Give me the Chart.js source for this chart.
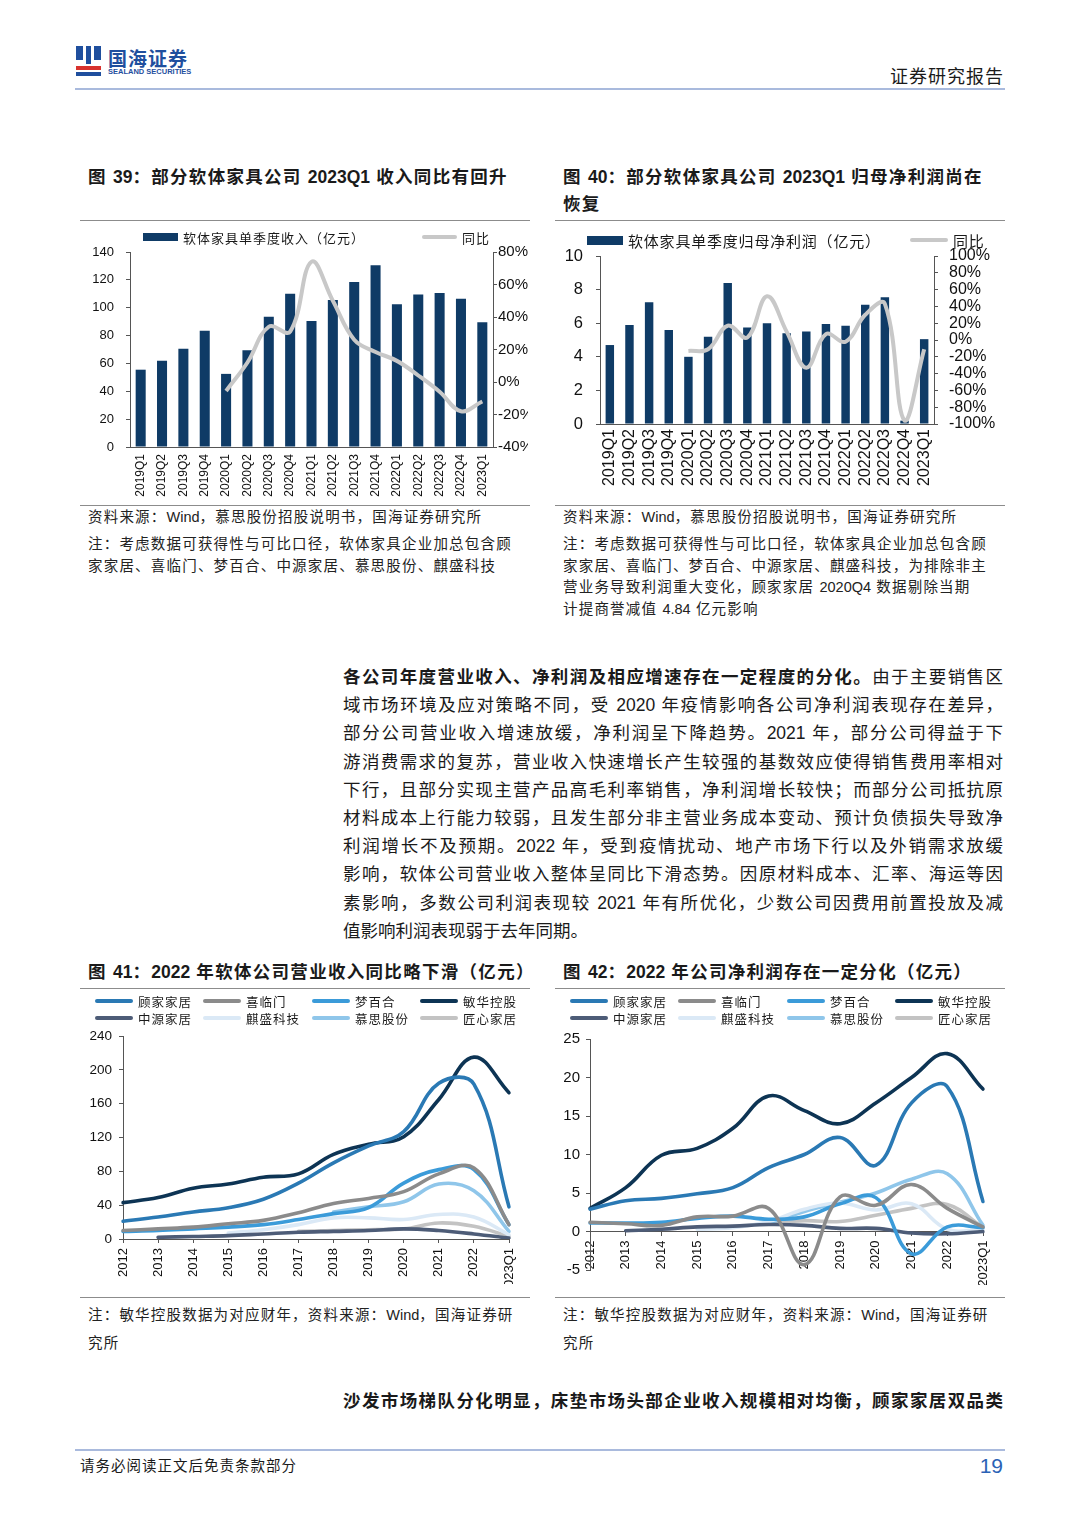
<!DOCTYPE html>
<html lang="zh-CN">
<head>
<meta charset="utf-8">
<title>软体家具公司收入与利润</title>
<script src="https://cdn.jsdelivr.net/npm/chart.js@4.4.1/dist/chart.umd.min.js"></script>
<style>
  html,body{margin:0;padding:0}
  body{width:1080px;height:1527px;position:relative;background:#fff;overflow:hidden;
    font-family:"Liberation Sans",Arial,"Noto Sans CJK SC",sans-serif;color:#1a1a1a}
  .a{position:absolute}
  .rule{position:absolute;height:1px;background:#8c8c8c}
  .brule{position:absolute;height:2px;background:#a9badd}
  .title{font-size:17.5px;font-weight:bold;line-height:27px;letter-spacing:1.3px;white-space:nowrap}
  .small{font-size:14.5px;line-height:21.5px;letter-spacing:1.2px;white-space:nowrap;color:#222}
  .lat{letter-spacing:0}
  .para{font-size:17.5px;line-height:28.2px;width:660px}
  .para div{text-align:justify;text-align-last:justify}
  .para div.last{text-align-last:left}
  .lg{position:absolute;display:flex;align-items:center;white-space:nowrap;height:18px}
  .lg span.sw{display:inline-block;margin-right:5px}
  canvas{position:absolute}
</style>
</head>
<body>

<!-- header -->
<div class="a" style="left:76px;top:46px;width:7px;height:14px;background:#1f4f9e"></div>
<div class="a" style="left:86px;top:46px;width:5px;height:18px;background:#1f4f9e"></div>
<div class="a" style="left:94px;top:46px;width:7px;height:14px;background:#1f4f9e"></div>
<div class="a" style="left:76px;top:66px;width:25px;height:4px;background:#d8322e"></div>
<div class="a" style="left:76px;top:72px;width:25px;height:4px;background:#1f4f9e"></div>
<div class="a" style="left:108px;top:44px;font-size:19px;font-weight:bold;color:#1f4f9e;letter-spacing:1px">国海证券</div>
<div class="a" style="left:108px;top:67px;font-size:7.5px;font-weight:bold;color:#1f4f9e">SEALAND SECURITIES</div>
<div class="a" style="right:76px;top:62px;font-size:18px;letter-spacing:1px">证券研究报告</div>
<div class="brule" style="left:75px;top:88px;width:930px"></div>

<!-- figure 39 / 40 titles -->
<div class="a title" style="left:88px;top:164px">图 <span class="lat">39</span>：部分软体家具公司 <span class="lat">2023Q1</span> 收入同比有回升</div>
<div class="a title" style="left:563px;top:164px">图 <span class="lat">40</span>：部分软体家具公司 <span class="lat">2023Q1</span> 归母净利润尚在<br>恢复</div>
<div class="rule" style="left:80px;top:220px;width:450px"></div>
<div class="rule" style="left:555px;top:220px;width:450px"></div>

<canvas id="c39" width="448" height="280" style="left:80px;top:225px;width:448px;height:280px"></canvas>
<canvas id="c40" width="455" height="280" style="left:555px;top:225px;width:455px;height:280px"></canvas>
<div id="lg39"></div>
<div id="lg40"></div>

<div class="rule" style="left:80px;top:505px;width:450px"></div>
<div class="rule" style="left:555px;top:505px;width:450px"></div>

<div class="a small" style="left:88px;top:507px">资料来源：<span class="lat">Wind</span>，慕思股份招股说明书，国海证券研究所</div>
<div class="a small" style="left:88px;top:534px">注：考虑数据可获得性与可比口径，软体家具企业加总包含顾<br>家家居、喜临门、梦百合、中源家居、慕思股份、麒盛科技</div>
<div class="a small" style="left:563px;top:507px">资料来源：<span class="lat">Wind</span>，慕思股份招股说明书，国海证券研究所</div>
<div class="a small" style="left:563px;top:534px">注：考虑数据可获得性与可比口径，软体家具企业加总包含顾<br>家家居、喜临门、梦百合、中源家居、麒盛科技，为排除非主<br>营业务导致利润重大变化，顾家家居 <span class="lat">2020Q4</span> 数据剔除当期<br>计提商誉减值 <span class="lat">4.84</span> 亿元影响</div>

<!-- body text -->
<div class="a para" style="left:343px;top:663px">
  <div><b>各公司年度营业收入、净利润及相应增速存在一定程度的分化。</b>由于主要销售区</div>
  <div>域市场环境及应对策略不同，受 2020 年疫情影响各公司净利润表现存在差异，</div>
  <div>部分公司营业收入增速放缓，净利润呈下降趋势。2021 年，部分公司得益于下</div>
  <div>游消费需求的复苏，营业收入快速增长产生较强的基数效应使得销售费用率相对</div>
  <div>下行，且部分实现主营产品高毛利率销售，净利润增长较快；而部分公司抵抗原</div>
  <div>材料成本上行能力较弱，且发生部分非主营业务成本变动、预计负债损失导致净</div>
  <div>利润增长不及预期。2022 年，受到疫情扰动、地产市场下行以及外销需求放缓</div>
  <div>影响，软体公司营业收入整体呈同比下滑态势。因原材料成本、汇率、海运等因</div>
  <div>素影响，多数公司利润表现较 2021 年有所优化，少数公司因费用前置投放及减</div>
  <div class="last">值影响利润表现弱于去年同期。</div>
</div>

<!-- figure 41 / 42 -->
<div class="a title" style="left:88px;top:959px">图 <span class="lat">41</span>：<span class="lat">2022</span> 年软体公司营业收入同比略下滑（亿元）</div>
<div class="a title" style="left:563px;top:959px">图 <span class="lat">42</span>：<span class="lat">2022</span> 年公司净利润存在一定分化（亿元）</div>
<div class="rule" style="left:80px;top:988px;width:450px"></div>
<div class="rule" style="left:555px;top:988px;width:450px"></div>

<canvas id="c41" width="450" height="299" style="left:80px;top:985px;width:450px;height:299px"></canvas>
<canvas id="c42" width="455" height="300" style="left:555px;top:985px;width:455px;height:300px"></canvas>
<div id="lg41"></div>
<div id="lg42"></div>

<div class="rule" style="left:80px;top:1297px;width:450px"></div>
<div class="rule" style="left:555px;top:1297px;width:450px"></div>

<div class="a small" style="left:88px;top:1301px;line-height:28px">注：敏华控股数据为对应财年，资料来源：<span class="lat">Wind</span>，国海证券研<br>究所</div>
<div class="a small" style="left:563px;top:1301px;line-height:28px">注：敏华控股数据为对应财年，资料来源：<span class="lat">Wind</span>，国海证券研<br>究所</div>

<div class="a para" style="left:343px;top:1387px">
  <div><b>沙发市场梯队分化明显，床垫市场头部企业收入规模相对均衡，顾家家居双品类</b></div>
</div>

<!-- footer -->
<div class="brule" style="left:75px;top:1449px;width:930px"></div>
<div class="a" style="left:80px;top:1456px;font-size:14.5px;line-height:20px;letter-spacing:1px">请务必阅读正文后免责条款部分</div>
<div class="a" style="right:77px;top:1453px;font-size:21px;line-height:26px;color:#2a62b5">19</div>

<script>
// ---- data: quarterly soft-furniture aggregates (fig 39 / 40) ----
const quarters = ['2019Q1','2019Q2','2019Q3','2019Q4','2020Q1','2020Q2','2020Q3','2020Q4',
  '2021Q1','2021Q2','2021Q3','2021Q4','2022Q1','2022Q2','2022Q3','2022Q4','2023Q1'];
const revenueQ = [55.5, 62, 70.5, 83.5, 52.5, 69.5, 93.5, 110, 90.5, 105.5, 118.5, 130.5, 102.5, 109.5, 110.5, 106.5, 89.5];
const revenueYoY = [null, null, null, null, -5.5, 12, 34, 31, 74, 50, 26, 18.5, 13, 4, -6, -18, -12];
const profitQ = [4.7, 5.9, 7.25, 5.6, 4.0, 5.2, 8.4, 5.75, 6.0, 5.4, 5.5, 5.95, 5.85, 7.1, 7.55, 0.2, 5.05];
const profitYoY = [null, null, null, null, -13, -11, 17, 3, 52, 10, -33, 7, -2, 30, 43, -96, -11];

// ---- data: yearly by company (fig 41 / 42) ----
const years = ['2012','2013','2014','2015','2016','2017','2018','2019','2020','2021','2022','2023Q1'];
const companies = ['顾家家居','喜临门','梦百合','敏华控股','中源家居','麒盛科技','慕思股份','匠心家居'];
const companyColors = ['#2a79b4','#8b8b8b','#3b9bd9','#0d3454','#4d5c77','#dbe9f6','#8fc6ea','#c3c3c3'];

const revGujia     = [21, 26, 32, 37, 47, 66, 90, 110, 127, 184, 183, 38];
const revXilinmen  = [10, 12, 14, 18, 22, 31, 42, 48, 56, 77, 84, 17];
const revMengbaihe = [9, 10, 12, 14, 17, 23, 30, 37, 66, 82, 82, 17];
const revMinhua    = [43, 49, 60, 65, 73, 77, 100, 112, 121, 165, 215, 173];
const revZhongyuan = [null, 2, 3, 4, 6, 8, 9, 10, 12, 10, 6, 1];
const revQisheng   = [null, null, null, 7, 11, 17, 25, 25, 23, 29, 26, 5];
const revMusi      = [null, null, null, null, null, null, 32, 38, 44, 65, 57, 9];
const revJiangxin  = [null, null, null, null, null, 9, 10, 11, 12, 19, 15, 3];

const profitGujia     = [2.9, 4.0, 4.3, 4.9, 5.7, 8.3, 10.0, 12.2, 8.6, 16.7, 18.8, 3.9];
const profitXilinmen  = [1.2, 1.0, 0.8, 1.9, 2.0, 3.0, -4.3, 4.5, 3.4, 6.1, 3.0, 0.6];
const profitMengbaihe = [1.1, 1.1, 1.2, 1.7, 2.0, 1.6, 1.9, 3.6, 4.4, -2.9, 0.6, 0.5];
const profitMinhua    = [3.0, 5.7, 9.9, 10.8, 13.4, 17.6, 15.7, 14.0, 16.7, 20.0, 23.1, 18.5];
const profitZhongyuan = [null, 0.1, 0.3, 0.6, 0.7, 0.9, 0.8, 0.4, 0.4, -0.2, -0.3, 0.0];
const profitQisheng   = [null, null, null, 0.3, 0.5, 1.3, 2.9, 3.7, 2.8, 3.6, 0.3, 0.3];
const profitMusi      = [null, null, null, null, null, 1.1, 2.6, 3.8, 5.0, 6.8, 7.5, 0.8];
const profitJiangxin  = [null, null, null, null, null, 1.0, 1.4, 1.3, 2.1, 3.0, 3.5, 0.5];

const revSeries = [revGujia, revXilinmen, revMengbaihe, revMinhua, revZhongyuan, revQisheng, revMusi, revJiangxin];
const profitSeries = [profitGujia, profitXilinmen, profitMengbaihe, profitMinhua, profitZhongyuan, profitQisheng, profitMusi, profitJiangxin];

const barBlue = '#0f3b66';
const yoyGray = '#c8c8c8';
const axisColor = '#555';

Chart.defaults.font.family = '"Liberation Sans", Arial, "Noto Sans CJK SC", sans-serif';
Chart.defaults.color = '#111';

function yAxis(min, max, step, fontSize, pad, width, pos, fmt) {
  return {
    position: pos, min: min, max: max,
    ticks: { stepSize: step, padding: pad, autoSkip: false, font: { size: fontSize }, color: '#111', callback: fmt || (v => v) },
    grid: { drawOnChartArea: false, tickLength: 4, tickColor: axisColor },
    border: { color: axisColor },
    afterFit: s => { s.width = width; }
  };
}

function comboChart(id, bars, yoy, barLabel, o) {
  return new Chart(document.getElementById(id), {
    type: 'bar',
    data: {
      labels: quarters,
      datasets: [
        { label: barLabel, data: bars, backgroundColor: barBlue, yAxisID: 'y',
          barPercentage: o.barPct, categoryPercentage: 1, order: 1 },
        { type: 'line', label: '同比', data: yoy, yAxisID: 'y1', borderColor: yoyGray, backgroundColor: yoyGray,
          borderWidth: 4, pointRadius: 0, tension: 0.4, order: 0 }
      ]
    },
    options: {
      responsive: false, animation: false,
      layout: { padding: { top: o.top, left: 0, right: 0, bottom: 0 } },
      plugins: { legend: { display: false }, tooltip: { enabled: false } },
      scales: {
        x: { grid: { display: false, drawTicks: false }, border: { color: axisColor },
             ticks: { maxRotation: 90, minRotation: 90, autoSkip: false, padding: o.xPad, font: { size: o.xFont }, color: '#111' },
             afterFit: s => { s.height = o.xHeight; } },
        y: yAxis(o.yMin, o.yMax, o.yStep, o.yFont, o.yPad, o.yWidth, 'left'),
        y1: yAxis(o.rMin, o.rMax, 20, o.rFont, o.rPad, o.rWidth, 'right', v => v + '%')
      }
    }
  });
}

function companyChart(id, series, o) {
  return new Chart(document.getElementById(id), {
    type: 'line',
    data: {
      labels: years,
      datasets: companies.map((name, i) => ({
        label: name, data: series[i], borderColor: companyColors[i], backgroundColor: companyColors[i],
        borderWidth: 3.6, pointRadius: 0, tension: 0.4, borderCapStyle: 'round', borderJoinStyle: 'round'
      }))
    },
    options: {
      responsive: false, animation: false,
      layout: { padding: { top: o.top, left: 0, right: o.right, bottom: o.bottom } },
      plugins: { legend: { display: false }, tooltip: { enabled: false } },
      scales: {
        x: { offset: false, position: o.xPos,
             grid: { drawOnChartArea: false, tickLength: 4, tickColor: axisColor, offset: false },
             border: { color: axisColor },
             ticks: { maxRotation: 90, minRotation: 90, autoSkip: false, padding: 5, font: { size: o.xFont }, color: '#111' },
             afterFit: s => { if (o.xHeight) s.height = o.xHeight; } },
        y: yAxis(o.yMin, o.yMax, o.yStep, o.yFont, o.yPad, o.yWidth, 'left')
      }
    }
  });
}

// legend drawn as html from the chart's own legend items (kept in dataset order)
function htmlLegend(chart, boxId, slots, sw) {
  const box = document.getElementById(boxId);
  const items = Chart.defaults.plugins.legend.labels.generateLabels(chart)
    .sort((a, b) => a.datasetIndex - b.datasetIndex);
  items.forEach((it, i) => {
    const ds = chart.data.datasets[it.datasetIndex];
    const isLine = (ds.type || chart.config.type) === 'line';
    const el = document.createElement('div');
    el.className = 'lg';
    el.style.left = slots[i][0] + 'px';
    el.style.top = (slots[i][1] - 9) + 'px';
    el.style.fontSize = sw.font + 'px';
    el.style.letterSpacing = sw.ls + 'px';
    const s = document.createElement('span');
    s.className = 'sw';
    s.style.width = (isLine ? sw.lw : sw.bw) + 'px';
    s.style.height = (isLine ? sw.lh : sw.bh) + 'px';
    s.style.background = isLine ? it.strokeStyle : it.fillStyle;
    if (isLine) s.style.borderRadius = (sw.lh / 2) + 'px';
    el.appendChild(s);
    el.appendChild(document.createTextNode(it.text));
    box.appendChild(el);
  });
}

const c39 = comboChart('c39', revenueQ, revenueYoY, '软体家具单季度收入（亿元）', {
  barPct: 0.47, top: 27, xPad: 7, xFont: 12, xHeight: 58,
  yMin: 0, yMax: 140, yStep: 20, yFont: 13, yPad: 12, yWidth: 50,
  rMin: -40, rMax: 80, rFont: 15, rPad: 1, rWidth: 35
});
const c40 = comboChart('c40', profitQ, profitYoY, '软体家具单季度归母净利润（亿元）', {
  barPct: 0.43, top: 31, xPad: 5, xFont: 16, xHeight: 81,
  yMin: 0, yMax: 10, yStep: 2, yFont: 16.5, yPad: 13, yWidth: 45,
  rMin: -100, rMax: 100, rFont: 16, rPad: 11, rWidth: 76
});
const c41 = companyChart('c41', revSeries, {
  top: 51, right: 21, bottom: 0, xPos: 'bottom', xFont: 13, xHeight: 45,
  yMin: 0, yMax: 240, yStep: 40, yFont: 13.5, yPad: 7, yWidth: 43
});
const c42 = companyChart('c42', profitSeries, {
  top: 54, right: 27, bottom: 13, xPos: { y: 0 }, xFont: 13,
  yMin: -5, yMax: 25, yStep: 5, yFont: 15, yPad: 6, yWidth: 35
});

htmlLegend(c39, 'lg39', [[143, 237], [422, 237]], { font: 13, ls: 1, bw: 35, bh: 8, lw: 35, lh: 4 });
htmlLegend(c40, 'lg40', [[587, 240], [910, 240]], { font: 15, ls: 0.8, bw: 36, bh: 9, lw: 38, lh: 4 });
const cols41 = [95, 203, 312, 420], cols42 = [570, 678, 787, 895], rows = [1001, 1018];
const slots41 = [], slots42 = [];
for (let r = 0; r < 2; r++) for (let c = 0; c < 4; c++) {
  slots41.push([cols41[c], rows[r]]);
  slots42.push([cols42[c], rows[r]]);
}
htmlLegend(c41, 'lg41', slots41, { font: 12.5, ls: 1, bw: 38, bh: 4, lw: 38, lh: 4 });
htmlLegend(c42, 'lg42', slots42, { font: 12.5, ls: 1, bw: 38, bh: 4, lw: 38, lh: 4 });
</script>
</body>
</html>
